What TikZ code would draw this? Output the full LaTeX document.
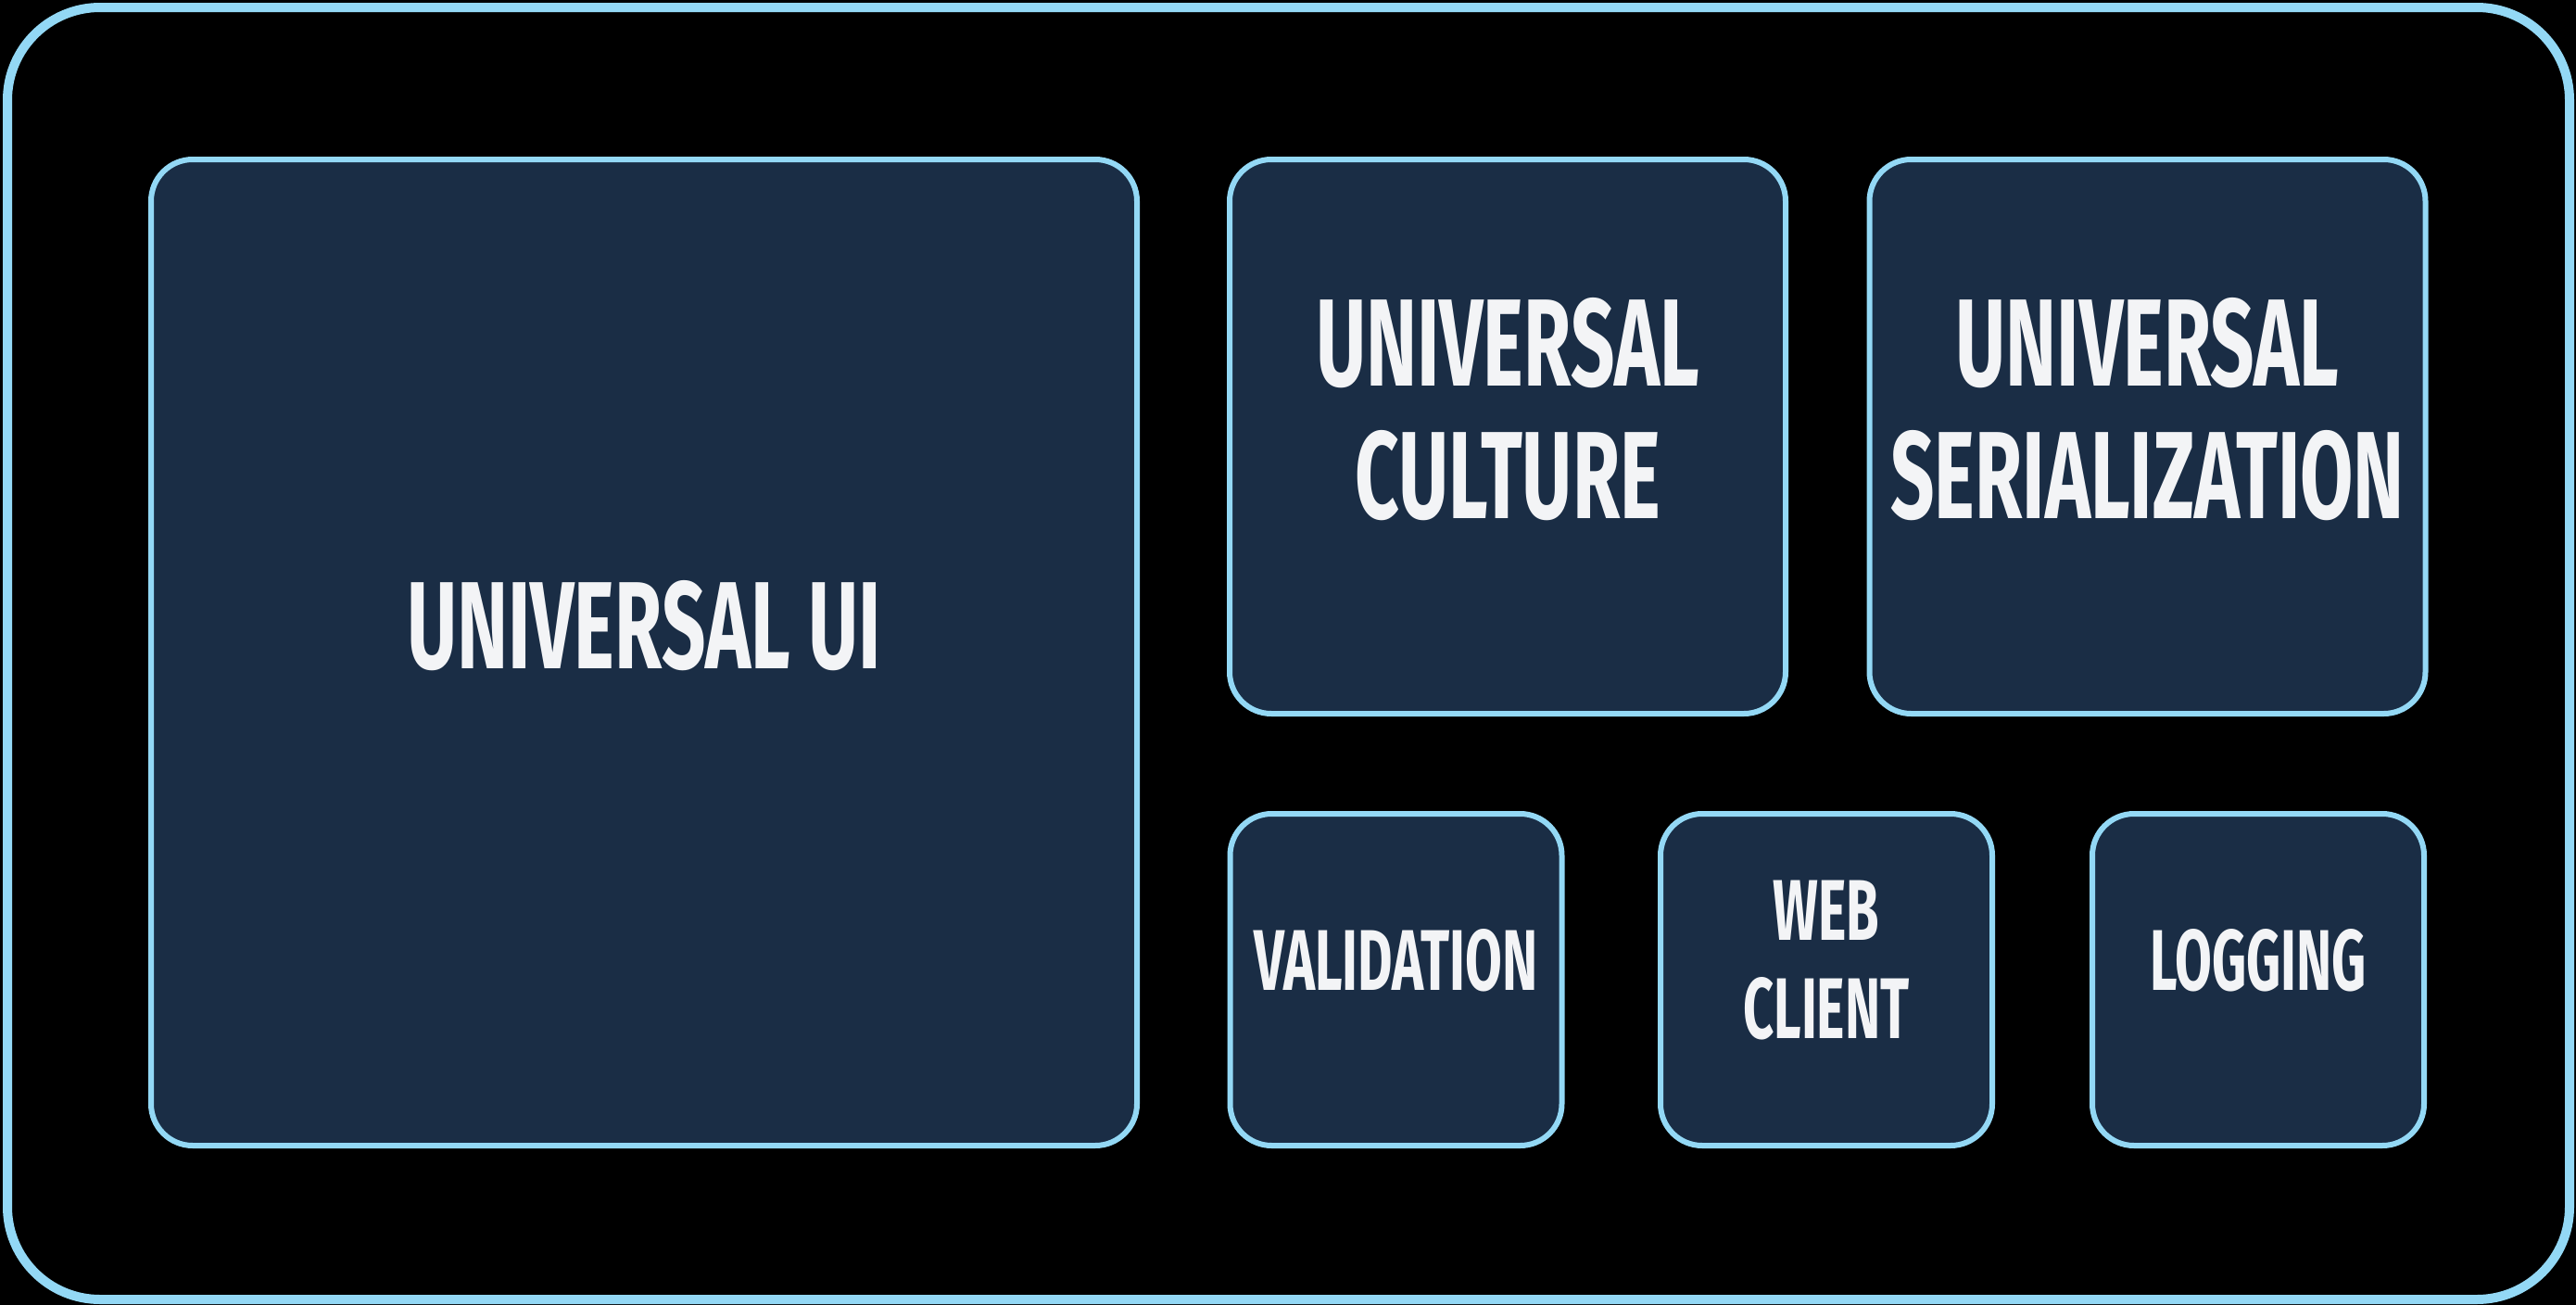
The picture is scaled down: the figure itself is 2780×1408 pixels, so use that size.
\documentclass[tikz,border=0pt]{standalone}
\usepackage{fontspec}
\newfontfamily\dinfont{Fira Sans}[FakeStretch=0.62]
\usetikzlibrary{positioning}
\definecolor{frameblue}{HTML}{93D8F5}
\definecolor{boxnavy}{HTML}{1A2D45}
\definecolor{labelwhite}{HTML}{F3F4F6}
\tikzset{
  module/.style={draw=frameblue, fill=boxnavy, line width=3pt,
    rounded corners=22.5pt, inner sep=0pt},
  bigmod/.style={module, minimum width=300pt, minimum height=299pt},
  smallmod/.style={module, minimum width=179pt, minimum height=179pt},
  bigtxt/.style={text=labelwhite, align=center, inner sep=0pt,
    font=\dinfont\bfseries\fontsize{67}{71.5}\selectfont},
  smalltxt/.style={text=labelwhite, align=center, inner sep=0pt,
    font=\dinfont\bfseries\fontsize{46.5}{53}\selectfont}
}
\begin{document}
\begin{tikzpicture}[x=0.5pt, y=-0.5pt]
\useasboundingbox (0,0) rectangle (2780,1408);
\fill[black] (0,0) rectangle (2780,1408);
%% outer frame
\node[draw=frameblue, line width=5pt, rounded corners=50pt, inner sep=0pt,
  minimum width=1382.5pt, minimum height=697pt] (frame) at (1390.5,705) {};
%% modules
\node[module, minimum width=532pt, minimum height=532pt] (ui) at (695,704) {};
\node[bigmod] (culture) at (1627,471) {};
\node[bigmod] (serial) at (2317.5,471) {};
\node[smallmod] (valid) at (1506.5,1057) {};
\node[smallmod] (web) at (1971,1057) {};
\node[smallmod] (logging) at (2437,1057) {};
%% labels
\node[bigtxt] (ui-t) at ([yshift=14.5pt]ui.center) {UNIVERSAL UI};
\node[bigtxt] (culture-t) at ([yshift=14.5pt]culture.center) {UNIVERSAL\\CULTURE};
\node[bigtxt] (serial-t) at ([yshift=14.5pt]serial.center) {UNIVERSAL\\SERIALIZATION};
\node[smalltxt] (valid-t) at ([yshift=10.5pt]valid.center) {VALIDATION};
\node[smalltxt] (web-t) at ([yshift=10.5pt]web.center) {WEB\\CLIENT};
\node[smalltxt] (logging-t) at ([yshift=10.5pt]logging.center) {LOGGING};
\end{tikzpicture}
\end{document}
